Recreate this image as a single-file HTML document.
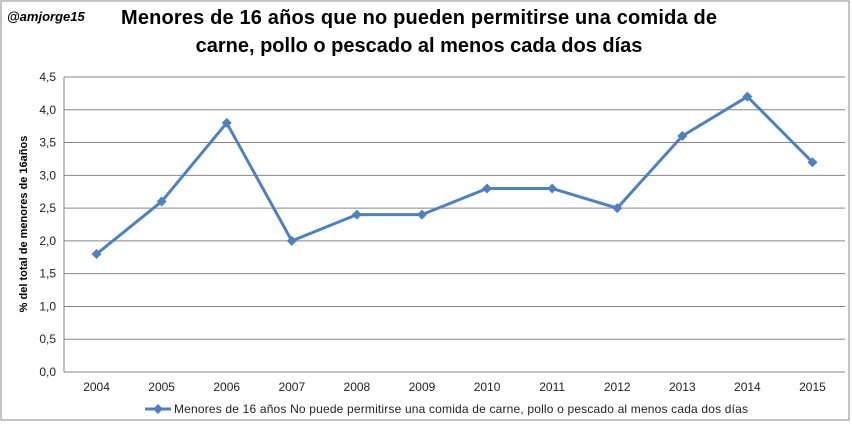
<!DOCTYPE html>
<html><head><meta charset="utf-8"><style>
body{margin:0;background:#fff;}
svg{display:block;font-family:"Liberation Sans",sans-serif;}
</style></head><body>
<svg id="c" width="852" height="424">
<rect x="1" y="1" width="848" height="419" fill="#fff" stroke="#8a8a8a"/>
<text x="7" y="21" font-size="13" font-weight="bold" font-style="italic">@amjorge15</text>
<text x="419" y="24" font-size="20" font-weight="bold" text-anchor="middle" textLength="596">Menores de 16 años que no pueden permitirse una comida de</text>
<text x="419" y="52" font-size="20" font-weight="bold" text-anchor="middle">carne, pollo o pescado al menos cada dos días</text>
<text transform="translate(27,224) rotate(-90)" font-size="11" font-weight="bold" text-anchor="middle">% del total de menores de 16años</text>
<g id="grid"></g><g id="series"></g>
</svg>
<script>
const categories=["2004","2005","2006","2007","2008","2009","2010","2011","2012","2013","2014","2015"];
const values=[1.8,2.6,3.8,2.0,2.4,2.4,2.8,2.8,2.5,3.6,4.2,3.2];
const yTicks=[0,0.5,1,1.5,2,2.5,3,3.5,4,4.5];
const L=64,R=845,T=77,B=372,yMax=4.5;
const NS="http://www.w3.org/2000/svg";
const step=(R-L)/categories.length;
const xs=i=>L+step*(i+0.5);
const ys=v=>B-(v/yMax)*(B-T);
function mk(t,a){const e=document.createElementNS(NS,t);for(const k in a)e.setAttribute(k,a[k]);return e;}
const g=document.getElementById('grid');
yTicks.forEach(v=>{
 const l=mk('line',{x1:L,x2:R,y1:ys(v),y2:ys(v),stroke:'#868686','stroke-width':1});
 
 
 g.appendChild(l);
 const t=mk('text',{x:L-8,y:ys(v)+4,'font-size':12,'text-anchor':'end',fill:'#222'});
 t.textContent=v.toFixed(1).replace('.',',');
 
 
 g.appendChild(t);
});
const ax=mk('line',{x1:L,x2:L,y1:T,y2:B,stroke:'#868686'});


g.appendChild(ax);
categories.forEach((c,i)=>{
 const t=mk('text',{x:xs(i),y:B+19,'font-size':12,'text-anchor':'middle',fill:'#222'});
 t.textContent=c;
 
 
 g.appendChild(t);
});
const s=document.getElementById('series');
const p=mk('polyline',{points:values.map((v,i)=>xs(i)+','+ys(v)).join(' '),fill:'none',stroke:'#4f81bd','stroke-width':3});


s.appendChild(p);
values.forEach((v,i)=>{
 const x=xs(i),y=ys(v);
 const d=mk('polygon',{points:`${x},${y-5} ${x+5},${y} ${x},${y+5} ${x-5},${y}`,fill:'#4f81bd'});
 
 
 s.appendChild(d);
});
const lg=mk('g',{});


lg.appendChild(mk('line',{x1:145,x2:171,y1:409,y2:409,stroke:'#4f81bd','stroke-width':3}));
lg.appendChild(mk('polygon',{points:'158,404 163,409 158,414 153,409',fill:'#4f81bd'}));
const lt=mk('text',{x:174,y:413,'font-size':12,fill:'#222',textLength:574});
lt.textContent='Menores de 16 años No puede permitirse una comida de carne, pollo o pescado al menos cada dos días';
lg.appendChild(lt);
s.appendChild(lg);
</script>
</body></html>
